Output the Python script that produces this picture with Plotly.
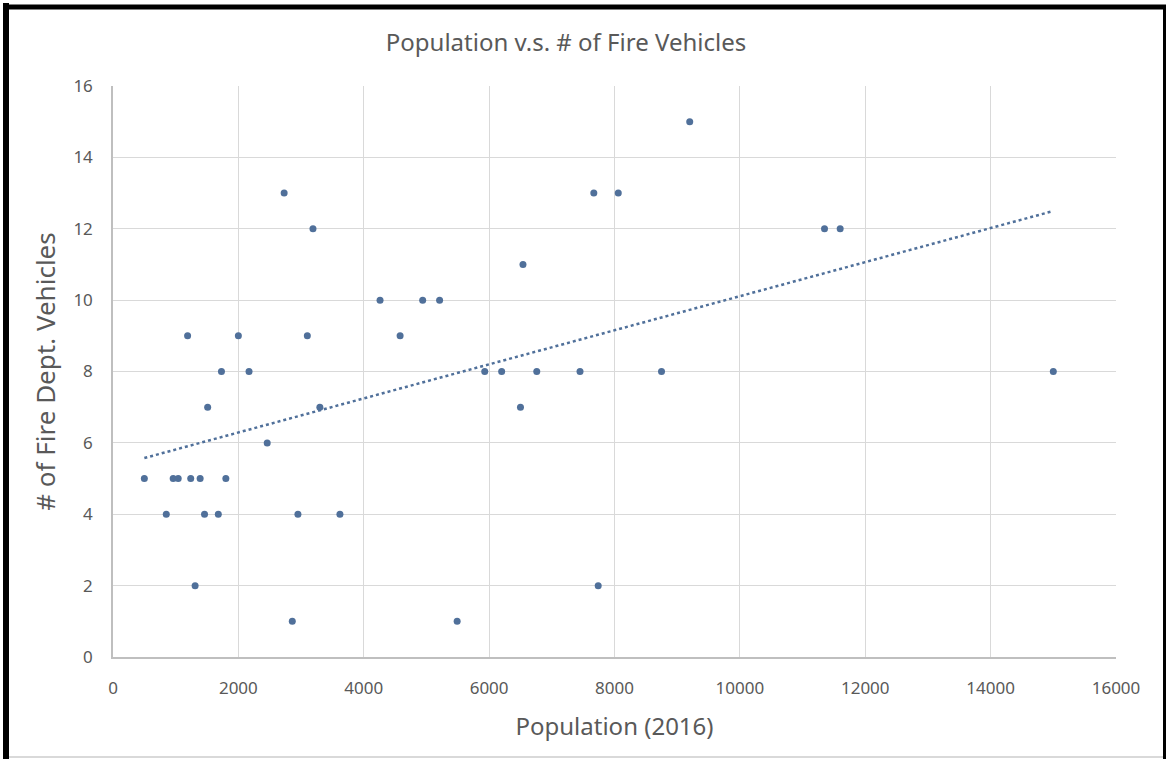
import numpy as np
import plotly.graph_objects as go

# ---- data ----
population = [500, 850, 960, 1040, 1190, 1240, 1310, 1390, 1460, 1510,
              1680, 1730, 1800, 2000, 2170, 2460, 2730, 2860, 2950, 3100,
              3190, 3300, 3620, 4260, 4580, 4940, 5210, 5490, 5930, 6200,
              6500, 6540, 6760, 7450, 7670, 7740, 8060, 8750, 9200, 11350,
              11600, 15000]
vehicles = [5, 4, 5, 5, 9, 5, 2, 5, 4, 7,
            4, 8, 5, 9, 8, 6, 13, 1, 4, 9,
            12, 7, 4, 10, 9, 10, 10, 1, 8, 8,
            7, 11, 8, 8, 13, 2, 13, 8, 15, 12,
            12, 8]
x_ticks = [0, 2000, 4000, 6000, 8000, 10000, 12000, 14000, 16000]
y_ticks = [0, 2, 4, 6, 8, 10, 12, 14, 16]

title_text = "Population v.s. # of Fire Vehicles"
x_title = "Population (2016)"
y_title = "# of Fire Dept. Vehicles"

# ---- styling ----
W, H = 1166, 759
ML, MR, MT, MB = 113, W - 1116, 86, H - 657
PW, PH = W - ML - MR, H - MT - MB
MARK = "#50709a"
TXT = "#595959"
FONT = "Noto Sans"

# linear trendline (least squares), drawn over data extent
slope, intercept = np.polyfit(population, vehicles, 1)
tx = np.array([min(population), max(population)])
ty = slope * tx + intercept

fig = go.Figure()
fig.add_trace(go.Scatter(
    x=tx, y=ty, mode="lines",
    line=dict(color=MARK, width=2.5, dash="dot"),
    hoverinfo="skip", showlegend=False))
fig.add_trace(go.Scatter(
    x=population, y=vehicles, mode="markers",
    marker=dict(color=MARK, size=7),
    showlegend=False))


def px_x(px):
    return (px - ML) / PW


def px_y(py):
    return (H - MB - py) / PH


shapes = [
    # outer black frame (left, top, right) and light bottom edge
    dict(type="line", xref="paper", yref="paper",
         x0=px_x(6), x1=px_x(6), y0=px_y(3), y1=px_y(H),
         line=dict(color="black", width=6)),
    dict(type="line", xref="paper", yref="paper",
         x0=px_x(3), x1=px_x(W), y0=px_y(7), y1=px_y(7),
         line=dict(color="black", width=5)),
    dict(type="line", xref="paper", yref="paper",
         x0=px_x(1164.5), x1=px_x(1164.5), y0=px_y(5), y1=px_y(H),
         line=dict(color="black", width=3)),
    dict(type="line", xref="paper", yref="paper",
         x0=px_x(9), x1=px_x(1163), y0=px_y(757), y1=px_y(757),
         line=dict(color="#d9d9d9", width=2)),
]

fig.update_layout(
    width=W, height=H,
    margin=dict(l=ML, r=MR, t=MT, b=MB, autoexpand=False),
    paper_bgcolor="white", plot_bgcolor="white",
    font=dict(family=FONT, color=TXT, size=17),
    title=dict(text=title_text, xref="container", x=566 / W,
               xanchor="center",
               y=1 - 43 / H, yanchor="middle",
               font=dict(size=24, color=TXT, family=FONT)),
    shapes=shapes,
    showlegend=False,
)
fig.update_xaxes(
    range=[0, 16000], tickvals=x_ticks, ticktext=[str(v) for v in x_ticks],
    showgrid=True, gridcolor="#d9d9d9", gridwidth=1,
    showline=True, linecolor="#bfbfbf", linewidth=1.5,
    zeroline=False, ticks="", ticklabelstandoff=15,
    tickfont=dict(size=17, color=TXT),
    title=dict(text=x_title, font=dict(size=24, color=TXT), standoff=20),
)
fig.update_yaxes(
    range=[0, 16], tickvals=y_ticks, ticktext=[str(v) for v in y_ticks],
    showgrid=True, gridcolor="#d9d9d9", gridwidth=1,
    showline=True, linecolor="#bfbfbf", linewidth=1.5,
    zeroline=False, ticks="", ticklabelstandoff=15,
    tickfont=dict(size=17, color=TXT),
    title=dict(text=y_title, font=dict(size=26, color=TXT), standoff=10),
)

fig.write_html(
    "out.html",
    config={"displayModeBar": False},
    post_script="document.body.style.margin='0';"
                "document.body.style.overflow='hidden';",
)
